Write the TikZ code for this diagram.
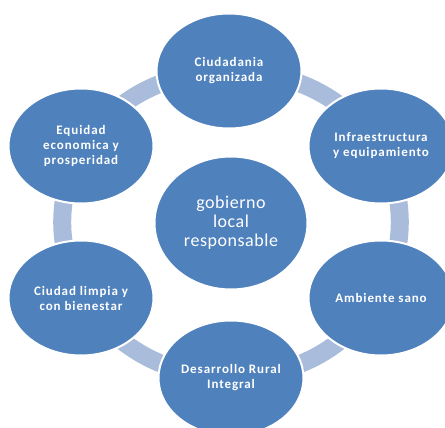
\documentclass[tikz,border=0pt]{standalone}
\usepackage{fontspec}
\setmainfont{Carlito}
\usetikzlibrary{shapes.geometric}
\usetikzlibrary{backgrounds}

\definecolor{bubblefill}{RGB}{79,129,189}
\definecolor{ringfill}{RGB}{170,188,219}

\begin{document}
\begin{tikzpicture} [x=1pt, y=-1pt,
        bubble/.style={ellipse, fill=bubblefill, draw=white, line width=2pt,
            minimum width=145pt, minimum height=115pt, inner sep=0pt,
            text=white, align=center,
            font=\fontsize{13}{15}\selectfont\bfseries\addfontfeature{LetterSpace=7}},
        hub/.style={bubble, minimum width=153pt, minimum height=133pt,
            font=\fontsize{18}{19}\selectfont\addfontfeature{LetterSpace=3}},
        ring/.style={draw=ringfill, line width=18pt}]
            \useasboundingbox (0,0) rectangle (445,428);

            \node [bubble] (ciudadania) at (229, 71)  {Ciudadania\\organizada};
            \node [bubble] (infra)      at (381, 146) {Infraestructura\\y equipamiento};
            \node [bubble] (ambiente)   at (381, 298) {Ambiente sano};
            \node [bubble] (rural)      at (231, 378) {Desarrollo Rural\\Integral};
            \node [bubble] (ciudad)     at (81, 298)  {Ciudad limpia y\\con bienestar};
            \node [bubble] (equidad)    at (81, 146)  {Equidad\\economica y\\prosperidad};
            \node [hub]    (gobierno)   at (231, 223) {gobierno\\local\\responsable};

            \begin{scope}[on background layer]
                \draw [ring] (ciudadania.center) to [bend left=25] (infra.center);
                \draw [ring] (infra.center) to [bend left=25] (ambiente.center);
                \draw [ring] (ambiente.center) to [bend left=25] (rural.center);
                \draw [ring] (rural.center) to [bend left=25] (ciudad.center);
                \draw [ring] (ciudad.center) to [bend left=25] (equidad.center);
                \draw [ring] (equidad.center) to [bend left=25] (ciudadania.center);
            \end{scope}
        \end{tikzpicture}
\end{document}
